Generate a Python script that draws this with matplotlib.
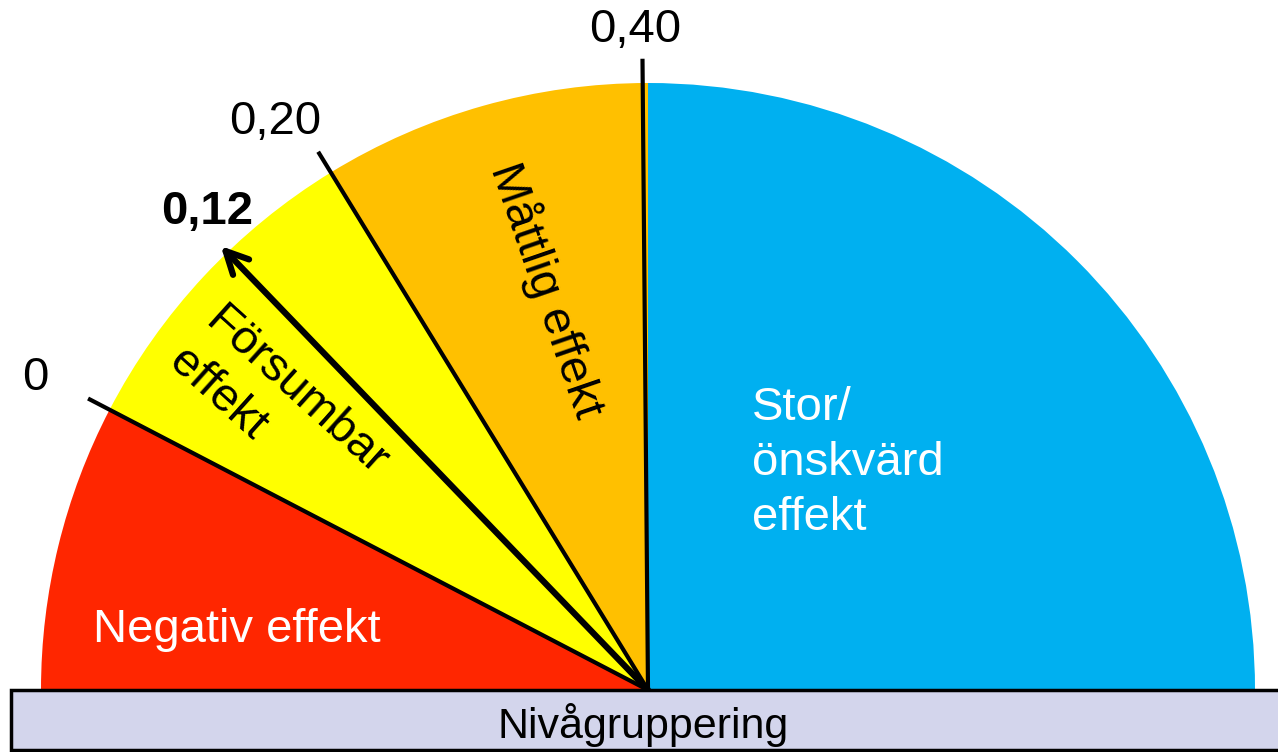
import numpy as np
import matplotlib.pyplot as plt
from matplotlib.patches import Wedge, Rectangle

plt.rcParams['font.family'] = ['Liberation Sans', 'DejaVu Sans']

# effect-size thresholds and result
thresholds = [0, 0.20, 0.40]
threshold_labels = ["0", "0,20", "0,40"]
result = 0.12
result_label = "0,12"
zone_names = ["Negativ effekt", "Försumbar\neffekt", "Måttlig effekt", "Stor/\nönskvärd\neffekt"]
zone_colors = ["#ff2600", "#ffff00", "#ffc000", "#00b0f0"]
base_label = "Nivågruppering"


def angle(d):
    # effect size -> gauge angle in degrees
    return 152.5 - 155 * d


fig = plt.figure(figsize=(12.78, 7.52), dpi=100)
ax = fig.add_axes([0, 0, 1, 1])
ax.set_xlim(0, 1278)
ax.set_ylim(0, 752)
ax.axis("off")

cx, cy, R = 648, 62, 607

# zones
edges = [180, angle(thresholds[0]), angle(thresholds[1]), 90, 0]
for i in range(4):
    ax.add_patch(Wedge((cx, cy), R, edges[i + 1], edges[i],
                       facecolor=zone_colors[i], edgecolor="none", zorder=1))

# threshold lines
for t in thresholds:
    a = np.radians(angle(t))
    ax.plot([cx, cx + 1.04 * R * np.cos(a)], [cy, cy + 1.04 * R * np.sin(a)],
            color="black", lw=3, zorder=3, solid_capstyle="butt")

# result arrow
a = np.radians(angle(result))
ax.annotate("", xy=(cx + 1.015 * R * np.cos(a), cy + 1.015 * R * np.sin(a)),
            xytext=(cx, cy),
            arrowprops=dict(arrowstyle="->", lw=4.5, mutation_scale=40,
                            color="black", shrinkA=0, shrinkB=0), zorder=4)

# base bar
ax.add_patch(Rectangle((11, 2), 1300, 60, facecolor="#d3d5ec",
                       edgecolor="black", lw=2.5, zorder=5))
ax.text(643, 27, base_label, fontsize=31, ha="center", va="center", zorder=6)

# threshold labels
fs = 34
ax.text(35, 374, threshold_labels[0], fontsize=fs, ha="center", va="center")
ax.text(275, 630, threshold_labels[1], fontsize=fs, ha="center", va="center")
ax.text(635, 722, threshold_labels[2], fontsize=fs, ha="center", va="center")
ax.text(207, 540, result_label, fontsize=fs, fontweight="bold", ha="center", va="center")

# zone labels
ax.text(237, 122, zone_names[0], fontsize=fs, color="white", ha="center", va="center", zorder=3)
ax.text(278, 340, zone_names[1], fontsize=fs, color="black", rotation=-42,
        rotation_mode="anchor", ha="center", va="center", multialignment="left",
        linespacing=1.33, zorder=3)
ax.text(547, 462, zone_names[2], fontsize=fs, color="black", rotation=-71,
        rotation_mode="anchor", ha="center", va="center", zorder=3)
ax.text(752, 289, zone_names[3], fontsize=fs, color="white", ha="left", va="center",
        multialignment="left", linespacing=1.33, zorder=3)

fig.savefig("out.png", dpi=100)
